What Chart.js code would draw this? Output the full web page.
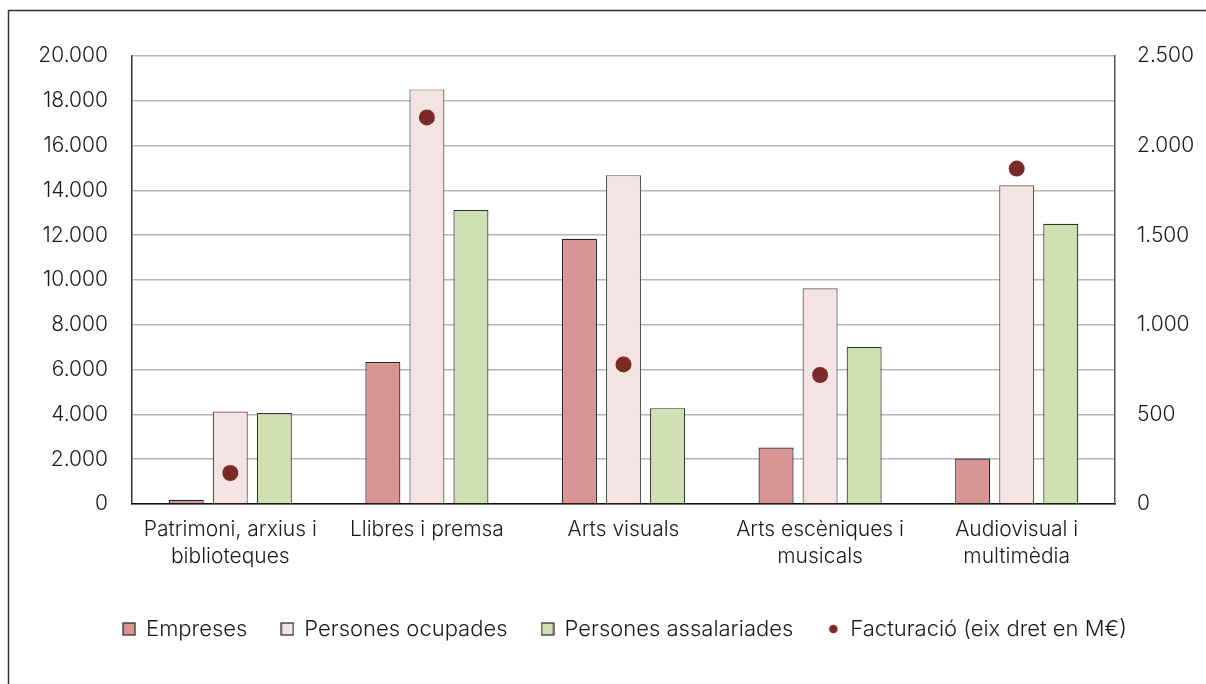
<!DOCTYPE html>
<html>
<head>
<meta charset="utf-8">
<script src="https://cdn.jsdelivr.net/npm/chart.js@4/dist/chart.umd.min.js"></script>
<style>
  html, body { margin: 0; padding: 0; background: #fff; }
  #wrap { position: relative; width: 1206px; height: 684px; }
</style>
</head>
<body>
<div id="wrap"><canvas id="c" width="1206" height="684"></canvas></div>
<script>
const categories = [
  ['Patrimoni, arxius i', 'biblioteques'],
  'Llibres i premsa',
  'Arts visuals',
  ['Arts escèniques i', 'musicals'],
  ['Audiovisual i', 'multimèdia']
];
const empreses = [190, 6340, 11840, 2520, 2030];
const personesOcupades = [4130, 18510, 14680, 9630, 14230];
const personesAssalariades = [4060, 13120, 4280, 7010, 12510];
const facturacio = [173, 2157, 779, 720, 1872];
const seriesNames = ['Empreses', 'Persones ocupades', 'Persones assalariades', 'Facturació (eix dret en M€)'];
const leftTicks = [0, 2000, 4000, 6000, 8000, 10000, 12000, 14000, 16000, 18000, 20000];
const rightTicks = [0, 500, 1000, 1500, 2000, 2500];

const FONT = 'Inter, Roboto, "Liberation Sans", Arial, sans-serif';
const FS = 21;
const fmt = v => Math.round(v).toString().replace(/\B(?=(\d{3})+(?!\d))/g, '.');

function makeIcon(kind, fill, stroke) {
  const c = document.createElement('canvas');
  if (kind === 'rect') {
    c.width = 14; c.height = 14;
    const g = c.getContext('2d');
    g.fillStyle = fill; g.fillRect(1, 1, 12, 12);
    g.strokeStyle = stroke; g.lineWidth = 1.3; g.strokeRect(1, 1, 12, 12);
  } else {
    c.width = 10; c.height = 10;
    const g = c.getContext('2d');
    g.fillStyle = fill; g.beginPath(); g.arc(5, 5, 4.3, 0, Math.PI * 2); g.fill();
  }
  return c;
}

const frame = {
  id: 'frame',
  beforeDraw(chart) {
    const ctx = chart.ctx;
    ctx.save();
    ctx.fillStyle = '#fff';
    ctx.fillRect(0, 0, chart.width, chart.height);
    ctx.strokeStyle = '#333';
    ctx.lineWidth = 1.5;
    ctx.beginPath();
    ctx.moveTo(8.5, 684);
    ctx.lineTo(8.5, 10.5);
    ctx.lineTo(1206, 10.5);
    ctx.stroke();
    ctx.restore();
  }
};

const cfg = {
  type: 'bar',
  data: {
    labels: categories,
    datasets: [
      { label: seriesNames[0], data: empreses, backgroundColor: '#d99594', borderColor: '#222', borderWidth: 1.2, yAxisID: 'y', order: 1,
        categoryPercentage: 0.672, barPercentage: 0.795 },
      { label: seriesNames[1], data: personesOcupades, backgroundColor: '#f5e3e3', borderColor: '#555', borderWidth: 1.2, yAxisID: 'y', order: 1,
        categoryPercentage: 0.672, barPercentage: 0.795 },
      { label: seriesNames[2], data: personesAssalariades, backgroundColor: '#d1e0b3', borderColor: '#333', borderWidth: 1.2, yAxisID: 'y', order: 1,
        categoryPercentage: 0.672, barPercentage: 0.795 },
      { type: 'line', label: seriesNames[3], data: facturacio, yAxisID: 'y1', showLine: false, order: 0,
        pointRadius: 8, pointHoverRadius: 8, pointBackgroundColor: '#7b2a2a', pointBorderColor: '#7b2a2a', pointBorderWidth: 0,
        backgroundColor: '#7b2a2a', borderColor: '#7b2a2a' }
    ]
  },
  options: {
    responsive: false,
    animation: false,
    devicePixelRatio: 1,
    layout: { padding: { left: 34, right: -10, top: 56, bottom: 34 } },
    plugins: {
      tooltip: { enabled: false },
      legend: {
        position: 'bottom',
        labels: {
          usePointStyle: true,
          boxWidth: 12, boxHeight: 12,
          padding: 34,
          color: '#1a1a1a',
          font: { family: FONT, size: 22, weight: 300 },
          generateLabels(chart) {
            const ds = chart.data.datasets;
            return ds.map((d, i) => ({
              text: d.label,
              datasetIndex: i,
              fontColor: '#1a1a1a',
              pointStyle: i === 3 ? makeIcon('circle', '#7b2a2a') : makeIcon('rect', d.backgroundColor, '#333'),
              fillStyle: d.backgroundColor,
              strokeStyle: d.borderColor,
              lineWidth: 0,
              hidden: false
            }));
          }
        }
      }
    },
    scales: {
      x: {
        grid: { display: false, drawTicks: false },
        border: { display: true, color: '#111', width: 1.5 },
        ticks: { color: '#1a1a1a', padding: 13, font: { family: FONT, size: FS, weight: 300, lineHeight: 1.25 }, maxRotation: 0, autoSkip: false },
        afterFit(s) { s.height = 80; }
      },
      y: {
        position: 'left',
        min: 0, max: 20000,
        afterBuildTicks(s) { s.ticks = leftTicks.map(v => ({ value: v })); },
        grid: { color: '#b5b5b5', lineWidth: 1.5, drawTicks: false },
        border: { display: true, color: '#333', width: 1.5 },
        ticks: { color: '#1a1a1a', padding: 24, font: { family: FONT, size: FS, weight: 300 }, callback: v => fmt(v) },
        afterFit(s) { s.width = 98; }
      },
      y1: {
        position: 'right',
        min: 0, max: 2500,
        afterBuildTicks(s) { s.ticks = rightTicks.map(v => ({ value: v })); },
        grid: { display: false, drawTicks: false },
        border: { display: true, color: '#555', width: 1.5 },
        ticks: { color: '#1a1a1a', padding: 22, font: { family: FONT, size: FS, weight: 300 }, callback: v => fmt(v) },
        afterFit(s) { s.width = 101; }
      }
    }
  },
  plugins: [frame]
};

new Chart(document.getElementById('c'), cfg);
</script>
</body>
</html>
